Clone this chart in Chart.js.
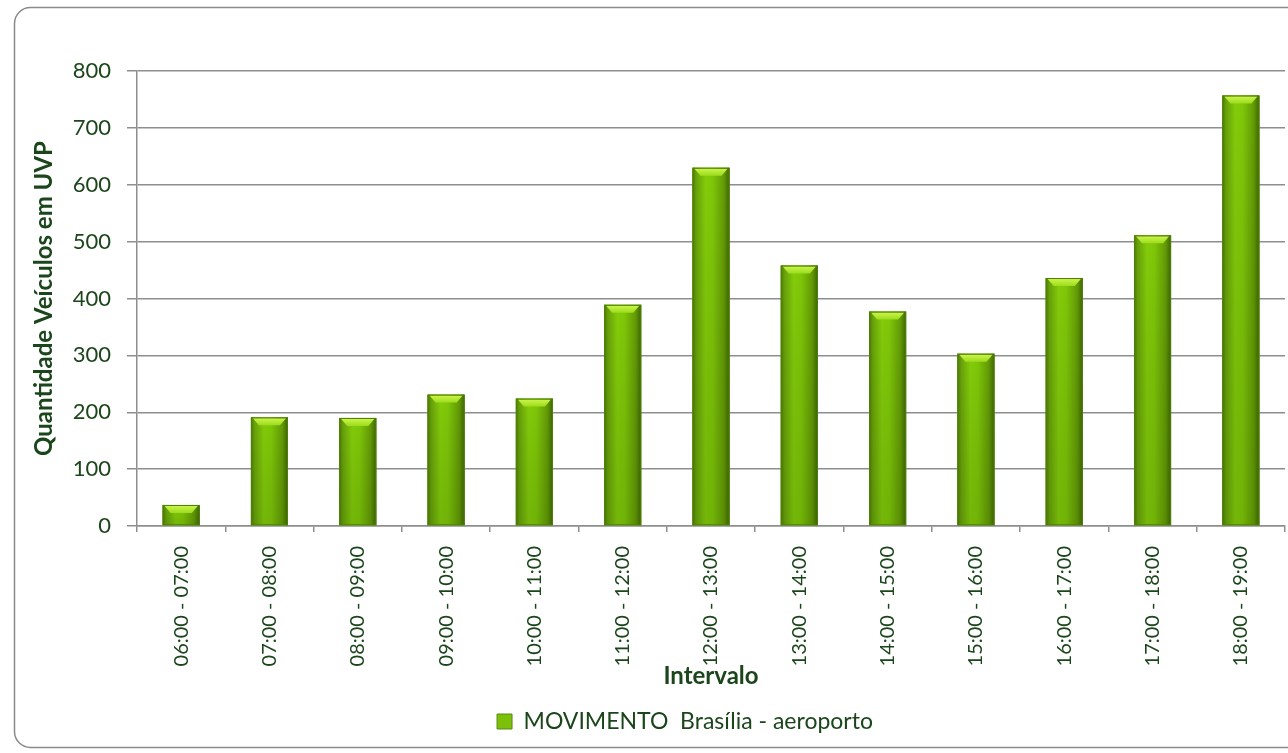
<!DOCTYPE html>
<html>
<head>
<meta charset="utf-8">
<script src="https://cdn.jsdelivr.net/npm/chart.js@4/dist/chart.umd.min.js"></script>
<style>
	html, body { margin: 0; padding: 0; overflow: hidden; background: #fff; }
	#wrap { position: relative; width: 1370px; height: 753px; }
</style>
</head>
<body>
<div id="wrap"><canvas id="bar-chart"></canvas></div>
<script>
const intervalos = ["06:00 - 07:00", "07:00 - 08:00", "08:00 - 09:00", "09:00 - 10:00", "10:00 - 11:00", "11:00 - 12:00", "12:00 - 13:00", "13:00 - 14:00", "14:00 - 15:00", "15:00 - 16:00", "16:00 - 17:00", "17:00 - 18:00", "18:00 - 19:00"];
const movimento = [37, 191, 190, 231, 224, 389, 630, 458, 377, 303, 436, 511, 757];
const serieNome = "MOVIMENTO  Brasília - aeroporto";

const textColor = "#1b461b";
const gridColor = "#8c8f8c";
const fontFamily = "Lato, 'Open Sans', sans-serif";

// moldura arredondada + barras com brilho (estilo Excel)
const excelLook = {
	id: "excelLook",
	beforeDraw(chart) {
		const ctx = chart.ctx;
		ctx.save();
		ctx.fillStyle = "#fff";
		ctx.fillRect(0, 0, chart.width, chart.height);
		ctx.strokeStyle = "#8a8a8a";
		ctx.lineWidth = 1.5;
		ctx.beginPath();
		ctx.roundRect(14.5, 7.5, 1340, 740, 16);
		ctx.stroke();
		ctx.restore();
	},
	afterDatasetsDraw(chart) {
		const ctx = chart.ctx;
		const meta = chart.getDatasetMeta(0);
		meta.data.forEach(bar => {
			const w = bar.width;
			const x0 = bar.x - w / 2;
			const top = bar.y;
			const h = bar.base - bar.y;
			ctx.save();
			const g = ctx.createLinearGradient(x0, 0, x0 + w, 0);
			g.addColorStop(0, "#4b7a04");
			g.addColorStop(0.1, "#68a10a");
			g.addColorStop(0.35, "#83cc0a");
			g.addColorStop(0.55, "#7fc708");
			g.addColorStop(0.85, "#639a06");
			g.addColorStop(1, "#3d6603");
			ctx.fillStyle = g;
			ctx.fillRect(x0, top, w, h);
			const v = ctx.createLinearGradient(0, top, 0, top + h);
			v.addColorStop(0, "rgba(0,0,0,0)");
			v.addColorStop(1, "rgba(30,60,0,0.15)");
			ctx.fillStyle = v;
			ctx.fillRect(x0, top, w, h);
			// tampa clara
			const capH = Math.min(8, h / 2);
			const cap = ctx.createLinearGradient(0, top, 0, top + capH);
			cap.addColorStop(0, "#d2f750");
			cap.addColorStop(1, "#9bdc1c");
			ctx.fillStyle = cap;
			ctx.beginPath();
			ctx.moveTo(x0 + 2, top + 1);
			ctx.lineTo(x0 + w - 2, top + 1);
			ctx.lineTo(x0 + w - 8, top + capH);
			ctx.lineTo(x0 + 8, top + capH);
			ctx.closePath();
			ctx.fill();
			ctx.strokeStyle = "#4f7f0c";
			ctx.lineWidth = 1;
			ctx.strokeRect(x0 + 0.5, top + 0.5, w - 1, h - 1);
			ctx.restore();
		});
	}
};

const barData = {
	labels: intervalos,
	datasets: [
		{
			label: serieNome,
			data: movimento,
			backgroundColor: "#7ab800",
			borderWidth: 0,
			barPercentage: 0.84,
			categoryPercentage: 0.5
		}
	]
};

const barOptions = {
	responsive: true,
	maintainAspectRatio: false,
	animation: false,
	layout: {
		padding: { left: 0, top: 71, right: 0, bottom: 10 }
	},
	plugins: {
		tooltip: { enabled: false },
		legend: {
			position: "bottom",
			labels: {
				color: textColor,
				font: { family: fontFamily, size: 23 },
				boxWidth: 15,
				boxHeight: 15,
				padding: 12,
				generateLabels: () => [{
					text: serieNome,
					fillStyle: "#7cc00a",
					strokeStyle: "#5b8a12",
					lineWidth: 1,
					fontColor: textColor
				}]
			}
		}
	},
	scales: {
		x: {
			offset: true,
			afterFit: scale => { scale.height = 172; },
			grid: {
				display: true,
				drawOnChartArea: false,
				drawTicks: true,
				tickLength: 6,
				color: gridColor,
				lineWidth: 1.5,
				offset: true
			},
			border: { color: gridColor, width: 1.5 },
			ticks: {
				color: textColor,
				font: { family: fontFamily, size: 20 },
				minRotation: 90,
				maxRotation: 90,
				autoSkip: false,
				padding: 14
			},
			title: {
				display: true,
				text: "Intervalo",
				color: textColor,
				font: { family: fontFamily, size: 24, weight: "bold" },
				padding: { top: 0, bottom: 7 }
			}
		},
		y: {
			min: 0,
			max: 800,
			afterFit: scale => { scale.width = 137; },
			grid: {
				color: gridColor,
				lineWidth: 1.5,
				tickLength: 10
			},
			border: { color: gridColor, width: 1.5 },
			ticks: {
				stepSize: 100,
				color: textColor,
				font: { family: fontFamily, size: 22 },
				padding: 16
			},
			title: {
				display: true,
				text: "Quantidade Veículos em UVP",
				color: textColor,
				font: { family: fontFamily, size: 24, weight: "bold" },
				padding: { top: 30, bottom: 4 }
			}
		},
		// espaço vazio à direita (a moldura do original continua além do recorte)
		yDir: {
			position: "right",
			display: true,
			afterFit: scale => { scale.width = 85; },
			grid: { display: false },
			border: { display: false },
			ticks: { display: false }
		}
	}
};

const barContext = document.getElementById("bar-chart").getContext("2d");
const barChart = new Chart(barContext, {
	type: "bar",
	data: barData,
	options: barOptions,
	plugins: [excelLook]
});
</script>
</body>
</html>
